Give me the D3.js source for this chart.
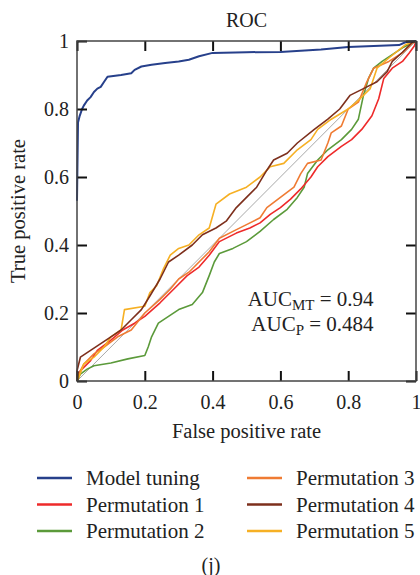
<!DOCTYPE html>
<html>
<head>
<meta charset="utf-8">
<script src="https://cdn.jsdelivr.net/npm/d3@7"></script>
<style>
  body { margin: 0; background: #fff; }
  text { font-family: "Liberation Serif", "DejaVu Serif", serif; fill: #222; }
</style>
</head>
<body>
<svg id="chart" width="420" height="575"></svg>
<script>
// series names and colours
const seriesNames = ["Model tuning", "Permutation 1", "Permutation 2", "Permutation 3", "Permutation 4", "Permutation 5"];
const seriesColors = ["#27408b", "#ee2a2a", "#5b9a3a", "#ef7b33", "#7d2f1c", "#f6b024"];

// ROC points [false positive rate, true positive rate]
const modelTuning = [[0,0.53],[0.003,0.76],[0.008,0.78],[0.015,0.8],[0.02,0.81],[0.03,0.825],[0.04,0.835],[0.05,0.85],[0.06,0.86],[0.07,0.865],[0.08,0.88],[0.09,0.895],[0.13,0.9],[0.16,0.905],[0.17,0.915],[0.19,0.925],[0.22,0.93],[0.26,0.935],[0.3,0.94],[0.33,0.945],[0.36,0.955],[0.4,0.965],[0.5,0.967],[0.6,0.968],[0.72,0.975],[0.8,0.982],[0.95,0.988],[0.97,0.997],[1,1]];
const perm1 = [[0,0],[0,0.02],[0.02,0.04],[0.04,0.06],[0.06,0.09],[0.1,0.12],[0.135,0.15],[0.17,0.17],[0.2,0.19],[0.245,0.23],[0.285,0.27],[0.325,0.31],[0.36,0.335],[0.39,0.37],[0.42,0.41],[0.47,0.435],[0.51,0.45],[0.54,0.465],[0.57,0.49],[0.6,0.51],[0.63,0.535],[0.66,0.565],[0.69,0.6],[0.71,0.63],[0.74,0.66],[0.78,0.69],[0.81,0.71],[0.84,0.74],[0.87,0.78],[0.89,0.83],[0.905,0.89],[0.93,0.92],[0.96,0.94],[0.98,0.965],[0.995,0.985],[1,1]];
const perm2 = [[0,0],[0.01,0.02],[0.03,0.035],[0.05,0.045],[0.1,0.053],[0.15,0.065],[0.2,0.075],[0.21,0.1],[0.22,0.13],[0.24,0.17],[0.27,0.19],[0.3,0.21],[0.34,0.225],[0.37,0.26],[0.39,0.31],[0.405,0.35],[0.42,0.375],[0.46,0.39],[0.5,0.41],[0.54,0.44],[0.58,0.475],[0.62,0.505],[0.65,0.54],[0.67,0.57],[0.68,0.61],[0.71,0.65],[0.74,0.68],[0.78,0.71],[0.81,0.74],[0.83,0.77],[0.845,0.84],[0.86,0.89],[0.875,0.92],[0.9,0.94],[0.93,0.96],[0.96,0.98],[0.99,0.995],[1,1]];
const perm3 = [[0,0],[0.005,0.02],[0.02,0.05],[0.05,0.08],[0.08,0.1],[0.12,0.13],[0.16,0.15],[0.2,0.2],[0.245,0.24],[0.275,0.27],[0.3,0.3],[0.33,0.32],[0.36,0.35],[0.39,0.38],[0.42,0.42],[0.46,0.44],[0.5,0.46],[0.54,0.48],[0.56,0.51],[0.6,0.54],[0.64,0.57],[0.66,0.61],[0.68,0.64],[0.72,0.65],[0.74,0.7],[0.75,0.73],[0.78,0.75],[0.8,0.8],[0.83,0.82],[0.855,0.88],[0.875,0.92],[0.92,0.94],[0.96,0.965],[0.99,0.995],[1,1]];
const perm4 = [[0,0],[0,0.03],[0.01,0.07],[0.04,0.09],[0.07,0.11],[0.1,0.13],[0.13,0.15],[0.16,0.18],[0.19,0.21],[0.215,0.25],[0.245,0.3],[0.27,0.35],[0.3,0.37],[0.34,0.4],[0.37,0.43],[0.41,0.45],[0.44,0.47],[0.47,0.51],[0.5,0.54],[0.53,0.57],[0.56,0.62],[0.58,0.65],[0.62,0.67],[0.65,0.7],[0.7,0.74],[0.74,0.77],[0.775,0.8],[0.805,0.84],[0.845,0.86],[0.885,0.88],[0.915,0.91],[0.93,0.94],[0.96,0.967],[0.99,0.997],[1,1]];
const perm5 = [[0,0],[0.005,0.01],[0.02,0.05],[0.05,0.07],[0.08,0.1],[0.1,0.13],[0.13,0.15],[0.14,0.21],[0.2,0.22],[0.215,0.26],[0.235,0.28],[0.255,0.33],[0.275,0.37],[0.3,0.39],[0.33,0.4],[0.36,0.43],[0.39,0.45],[0.41,0.52],[0.45,0.55],[0.5,0.57],[0.54,0.6],[0.57,0.63],[0.61,0.64],[0.65,0.68],[0.69,0.71],[0.71,0.74],[0.75,0.77],[0.8,0.8],[0.835,0.83],[0.865,0.86],[0.885,0.92],[0.92,0.95],[0.97,0.99],[1,1]];
const diagonal = [[0,0],[1,1]];

const tickValues = [0, 0.2, 0.4, 0.6, 0.8, 1];
const aucLabels = [["MT", "0.94"], ["P", "0.484"]];

const margin = { top: 41, left: 77, right: 4, bottom: 194 };
const width = 420 - margin.left - margin.right;
const height = 575 - margin.top - margin.bottom;

const svg = d3.select("#chart");
const g = svg.append("g").attr("transform", `translate(${margin.left},${margin.top})`);

const x = d3.scaleLinear().domain([0, 1]).range([0, width]);
const y = d3.scaleLinear().domain([0, 1]).range([height, 0]);

const fmt = d => d === 0 ? "0" : d === 1 ? "1" : d3.format(".1f")(d);

// diagonal reference line
const line = d3.line().x(d => x(d[0])).y(d => y(d[1]));
g.append("path")
  .datum(diagonal)
  .attr("d", line)
  .attr("fill", "none")
  .attr("stroke", "#a8a8a8")
  .attr("stroke-width", 1);

// curves, drawn so model tuning is on top
const allSeries = [modelTuning, perm1, perm2, perm3, perm4, perm5];
const drawOrder = [2, 1, 3, 5, 4, 0];
drawOrder.forEach(function(i) {
  g.append("path")
    .datum(allSeries[i])
    .attr("d", line)
    .attr("fill", "none")
    .attr("stroke", seriesColors[i])
    .attr("stroke-width", i === 0 ? 2 : 1.6)
    .attr("stroke-linejoin", "round");
});

// axes with inward ticks on all four sides
const axisStyle = function(sel) {
  sel.select(".domain").remove();
  sel.selectAll(".tick line").attr("stroke", "#111").attr("stroke-width", 2);
  sel.selectAll("text").style("font-size", "20px").attr("fill", "#222");
};

g.append("g")
  .attr("transform", `translate(0,${height})`)
  .call(d3.axisBottom(x).tickValues(tickValues).tickFormat(fmt).tickSizeInner(-10).tickPadding(14))
  .call(axisStyle);
g.append("g")
  .call(d3.axisTop(x).tickValues(tickValues).tickFormat("").tickSizeInner(-10))
  .call(axisStyle);
g.append("g")
  .call(d3.axisLeft(y).tickValues(tickValues).tickFormat(fmt).tickSizeInner(-10).tickPadding(8))
  .call(axisStyle);
g.append("g")
  .attr("transform", `translate(${width},0)`)
  .call(d3.axisRight(y).tickValues(tickValues).tickFormat("").tickSizeInner(-10))
  .call(axisStyle);

// frame
g.append("rect")
  .attr("width", width)
  .attr("height", height)
  .attr("fill", "none")
  .attr("stroke", "#444")
  .attr("stroke-width", 1.5);

// title and axis labels
svg.append("text")
  .attr("x", margin.left + width / 2)
  .attr("y", 27)
  .attr("text-anchor", "middle")
  .style("font-size", "20px")
  .text("ROC");
svg.append("text")
  .attr("x", margin.left + width / 2)
  .attr("y", 438)
  .attr("text-anchor", "middle")
  .style("font-size", "20.5px")
  .text("False positive rate");
svg.append("text")
  .attr("transform", `translate(25,${margin.top + height / 2}) rotate(-90)`)
  .attr("text-anchor", "middle")
  .style("font-size", "20.5px")
  .text("True positive rate");

// AUC annotation
aucLabels.forEach(function(a, i) {
  const t = g.append("text")
    .attr("x", x(0.875))
    .attr("y", y(0.22) + i * 25)
    .attr("text-anchor", "end")
    .style("font-size", "21px");
  t.append("tspan").text("AUC");
  t.append("tspan").attr("dy", 4).style("font-size", "15px").text(a[0]);
  t.append("tspan").attr("dy", -4).text(" = " + a[1]);
});

// legend, two columns
const legend = svg.append("g").attr("transform", "translate(37,478)");
seriesNames.forEach(function(name, i) {
  const col = i < 3 ? 0 : 1;
  const row = i < 3 ? i : i - 3;
  const item = legend.append("g").attr("transform", `translate(${col * 210},${row * 26.5})`);
  item.append("line")
    .attr("x1", 0).attr("x2", 35)
    .attr("stroke", seriesColors[i])
    .attr("stroke-width", 2.5);
  item.append("text")
    .attr("x", 49)
    .attr("y", 7)
    .style("font-size", "21px")
    .text(name);
});

svg.append("text")
  .attr("x", 211)
  .attr("y", 572)
  .attr("text-anchor", "middle")
  .style("font-size", "20px")
  .text("(j)");
</script>
</body>
</html>
